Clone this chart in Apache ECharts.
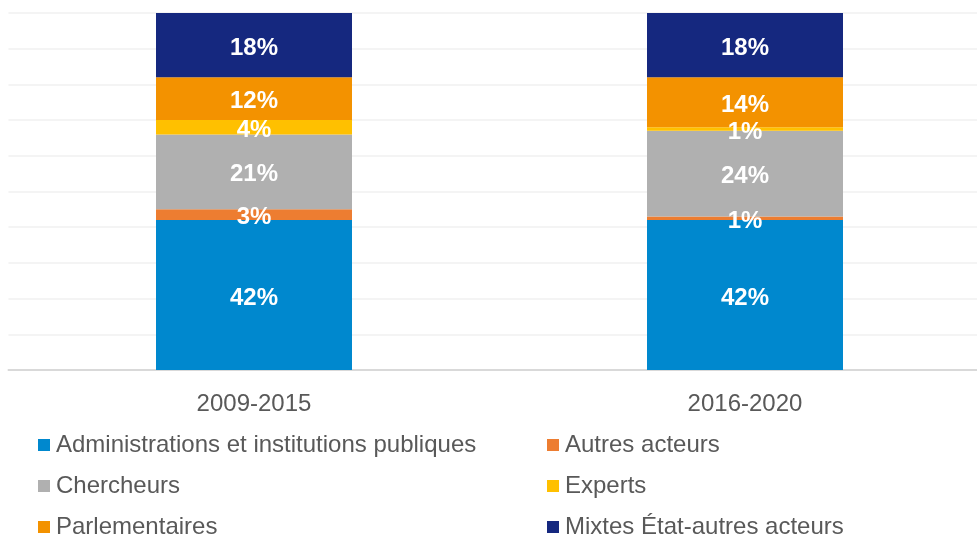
<!DOCTYPE html>
<html>
<head>
<meta charset="utf-8">
<script src="https://cdn.jsdelivr.net/npm/echarts@6/dist/echarts.min.js"></script>
<style>
  html, body { margin: 0; padding: 0; background: #fff; }
  #chart { width: 977px; height: 535px; }
</style>
</head>
<body>
<div id="chart"></div>
<script>
// périodes et parts (%) par type d'acteur, de bas en haut de la pile
const periods = ['2009-2015', '2016-2020'];
const administrations = [42, 42];
const autres = [3, 1];
const chercheurs = [21, 24];
const experts = [4, 1];
const parlementaires = [12, 14];
const mixtes = [18, 18];

const names = [
  'Administrations et institutions publiques',
  'Autres acteurs',
  'Chercheurs',
  'Experts',
  'Parlementaires',
  'Mixtes État-autres acteurs'
];
const values = [administrations, autres, chercheurs, experts, parlementaires, mixtes];
const colors = ['#0088ce', '#ed7d31', '#b0b0b0', '#ffc000', '#f39200', '#15287f'];

const font = 'Liberation Sans, Arial, sans-serif';
const chart = echarts.init(document.getElementById('chart'));

const legendBase = {
  orient: 'vertical',
  icon: 'rect',
  itemWidth: 12,
  itemHeight: 12,
  itemGap: 17,
  top: 433,
  height: 120,
  padding: 0,
  textStyle: { fontFamily: font, fontSize: 24, color: '#595959', padding: [0, 0, 0, 1] },
  selectedMode: false
};

chart.setOption({
  animation: false,
  color: colors,
  // la zone de tracé déborde à droite comme dans l'original (outerBoundsMode de v6 désactivé)
  grid: { left: 8.5, width: 982, top: 13, height: 357, containLabel: false, outerBoundsMode: 'none' },
  legend: [
    { ...legendBase, left: 38, data: [names[0], names[2], names[4]] },
    { ...legendBase, left: 547, data: [names[1], names[3], names[5]] }
  ],
  xAxis: {
    type: 'category',
    data: periods,
    axisLine: { lineStyle: { color: '#d9d9d9', width: 2 } },
    axisTick: { show: false },
    axisLabel: { margin: 22, fontFamily: font, fontSize: 24, color: '#595959' }
  },
  yAxis: {
    type: 'value',
    min: 0,
    max: 100,
    interval: 10,
    axisLabel: { show: false },
    axisLine: { show: false },
    axisTick: { show: false },
    splitLine: { lineStyle: { color: '#f0f0f0', width: 1.5 } }
  },
  series: names.map((n, i) => ({
    name: n,
    type: 'bar',
    stack: 'total',
    barWidth: 196,
    data: values[i],
    label: {
      show: true,
      position: 'inside',
      offset: [0, 3],
      formatter: '{c}%',
      color: '#fff',
      fontWeight: 'bold',
      fontSize: 24,
      fontFamily: font
    }
  }))
});
</script>
</body>
</html>
